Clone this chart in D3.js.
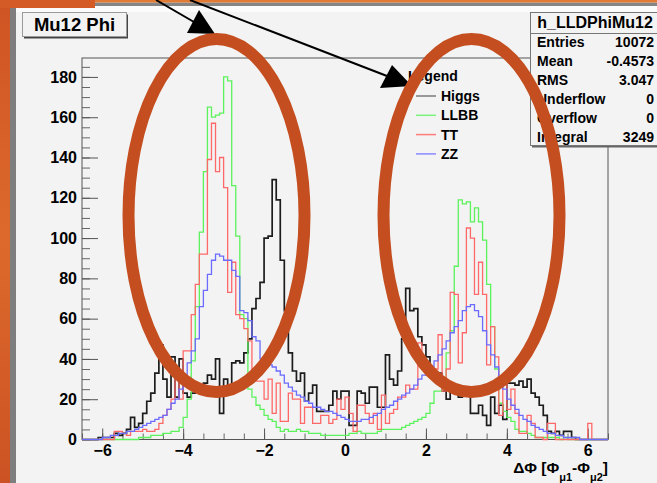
<!DOCTYPE html>
<html>
<head>
<meta charset="utf-8">
<script src="https://cdn.jsdelivr.net/npm/d3@7"></script>
<style>
  body { margin: 0; background: #f3f3f3; }
  svg { display: block; }
  text { font-family: "Liberation Sans", Arial, Helvetica, sans-serif; font-weight: bold; fill: #000; }
</style>
</head>
<body>
<div id="chart"></div>
<script>
// histogram binning: 130 bins of width 0.1 starting at -6.5
var binLow = -6.5, binWidth = 0.1;

var higgs = [
  0,0,0,0,1,1,1,1,3,2,
  3,5,11,6,8,13,19,23,33,47,
  30,21,41,21,40,23,21,23,27,26,
  28,32,30,40,13,30,27,38,39,38,
  43,50,65,70,78,100,101,129,119,89,
  64,43,34,29,33,19,23,27,14,14,
  14,17,24,20,24,24,7,7,24,23,
  18,26,26,16,16,42,30,27,34,50,
  75,64,65,51,47,41,35,29,33,24,
  20,24,24,21,25,25,13,13,17,12,
  7,21,13,17,10,28,28,27,29,26,
  30,23,21,17,12,4,3,4,2,4,
  4,1,0,0,0,0,0,0,0,0
];
var llbb = [
  0,0,0,0,0,0,0,0,0,0,
  0,0,0,0,1,1,1,2,2,2,
  3,3,4,4,6,11,20,39,66,103,
  133,165,160,161,162,180,178,126,101,62,
  60,25,21,17,15,12,10,9,6,4,
  5,4,4,5,4,4,3,3,3,2,
  2,2,2,2,2,2,3,3,4,3,
  3,3,3,4,5,5,5,5,5,6,
  7,8,9,10,11,13,18,24,24,30,
  43,54,86,119,117,118,108,115,108,99,
  77,56,35,18,14,11,9,5,4,4,
  3,2,1,1,1,1,1,1,0,1,
  0,0,0,0,0,0,0,0,0,0
];
var tt = [
  0,0,0,0,0,0,0,0,4,4,
  3,2,4,4,4,5,4,4,5,8,
  12,15,20,33,20,44,44,62,77,92,
  92,139,157,133,140,125,73,88,62,60,
  55,49,30,29,29,20,30,13,28,9,
  9,23,20,20,8,16,16,8,8,12,
  12,8,10,20,15,21,13,4,17,17,
  13,8,13,5,22,8,13,15,21,21,
  27,25,25,48,36,32,35,35,52,24,
  35,73,72,38,53,105,100,72,88,72,
  37,56,41,12,28,15,25,13,3,3,
  12,8,1,1,0,8,8,0,0,0,
  0,0,0,0,0,8,0,0,0,0
];
var zz = [
  0,0,0,0,0,1,1,2,2,3,
  3,4,4,5,6,7,8,9,10,11,
  12,15,18,20,25,31,38,44,50,66,
  74,82,89,92,91,89,89,84,81,64,
  63,59,51,49,40,37,37,36,34,32,
  28,26,24,22,21,19,18,16,16,15,
  14,14,13,12,11,10,9,9,9,10,
  10,11,12,13,15,16,17,19,20,22,
  23,25,27,30,32,34,36,39,42,45,
  49,53,56,59,64,66,67,64,61,54,
  47,42,36,30,25,20,17,15,12,10,
  9,7,6,5,4,3,3,2,2,1,
  1,1,1,0,0,0,0,0,0,0
];

var seriesNames = ["Higgs", "LLBB", "TT", "ZZ"];
var seriesColors = ["#1c1c1c", "#5cf25c", "#ff6868", "#6b6bff"];
var legendColors = ["#7a7a7a", "#7cf47c", "#ff7c7c", "#8a8aff"];

var xTicks = [-6, -4, -2, 0, 2, 4, 6];
var yTicks = [0, 20, 40, 60, 80, 100, 120, 140, 160, 180];

var titleText = "Mu12 Phi";
var statsTitle = "h_LLDPhiMu12";
var statsLabels = ["Entries", "Mean", "RMS", "Underflow", "Overflow", "Integral"];
var statsValues = ["10072", "-0.4573", "3.047", "0", "0", "3249"];

var W = 657, H = 483;
var frame = {left: 82, right: 608, top: 58, bottom: 439.5};

var svg = d3.select("#chart").append("svg")
    .attr("width", W)
    .attr("height", H);

// slide background / canvas
var defs = svg.append("defs");
var grad = defs.append("linearGradient").attr("id", "orng")
    .attr("x1", 0).attr("y1", 0).attr("x2", 0).attr("y2", 1);
grad.append("stop").attr("offset", "0%").attr("stop-color", "#cf5424");
grad.append("stop").attr("offset", "50%").attr("stop-color", "#dd6a2c");
grad.append("stop").attr("offset", "100%").attr("stop-color", "#cc5223");

svg.append("rect").attr("width", W).attr("height", H).attr("fill", "#f3f3f3");
svg.append("rect").attr("x", 16).attr("y", 6).attr("width", W - 16).attr("height", 6).attr("fill", "#fbfbfb");
svg.append("rect").attr("x", 95).attr("y", 2.5).attr("width", W - 95).attr("height", 3.5).attr("fill", "#858585");
svg.append("rect").attr("x", 10).attr("y", 8).attr("width", 6).attr("height", H - 8).attr("fill", "#7e7e7e");
svg.append("rect").attr("x", 0).attr("y", 0).attr("width", 10).attr("height", H).attr("fill", "url(#orng)");
svg.append("rect").attr("x", 0).attr("y", 0).attr("width", 95).attr("height", 8).attr("fill", "#d45a26");
svg.append("rect").attr("x", 95).attr("y", 0).attr("width", W - 95).attr("height", 2.5).attr("fill", "#e07a34");

// scales
var x = d3.scaleLinear().domain([-6.5, 6.5]).range([frame.left, frame.right]);
var y = d3.scaleLinear().domain([0, 189.4]).range([frame.bottom, frame.top]);

// minor + major ticks (ROOT style: inside the frame)
svg.append("g")
    .attr("transform", "translate(" + frame.left + ",0)")
    .call(d3.axisLeft(y).tickValues(d3.range(0, 189, 5)).tickSize(-8).tickFormat(""))
    .call(g => g.select(".domain").remove())
    .call(g => g.selectAll("line").attr("stroke", "#666"));
svg.append("g")
    .attr("transform", "translate(" + frame.left + ",0)")
    .call(d3.axisLeft(y).tickValues(yTicks).tickSize(-16).tickPadding(5))
    .call(g => g.select(".domain").remove())
    .call(g => g.selectAll("line").attr("stroke", "#555"))
    .call(g => g.selectAll("text").attr("font-size", 16).attr("font-family", "Liberation Sans, Arial, sans-serif"));

svg.append("g")
    .attr("transform", "translate(0," + frame.bottom + ")")
    .call(d3.axisBottom(x).tickValues(d3.range(-6.5, 6.51, 0.5)).tickSize(-6).tickFormat(""))
    .call(g => g.select(".domain").remove())
    .call(g => g.selectAll("line").attr("stroke", "#666"));
svg.append("g")
    .attr("transform", "translate(0," + frame.bottom + ")")
    .call(d3.axisBottom(x).tickValues(xTicks).tickSize(-11).tickPadding(5))
    .call(g => g.select(".domain").remove())
    .call(g => g.selectAll("line").attr("stroke", "#555"))
    .call(g => g.selectAll("text").attr("font-size", 16).attr("font-family", "Liberation Sans, Arial, sans-serif"));

// frame
svg.append("rect")
    .attr("x", frame.left).attr("y", frame.top)
    .attr("width", frame.right - frame.left).attr("height", frame.bottom - frame.top)
    .attr("fill", "none").attr("stroke", "#555").attr("stroke-width", 1);

// histograms as step outlines
var step = d3.line()
    .curve(d3.curveStepAfter)
    .x(d => x(d[0]))
    .y(d => y(d[1]));

function toSteps(vals) {
  var pts = vals.map((v, i) => [binLow + i * binWidth, v]);
  pts.push([binLow + vals.length * binWidth, vals[vals.length - 1]]);
  return pts;
}

var allSeries = [higgs, llbb, tt, zz];
svg.append("g").selectAll("path")
  .data(allSeries)
  .enter()
  .append("path")
    .attr("d", d => step(toSteps(d)))
    .attr("fill", "none")
    .attr("stroke", (d, i) => seriesColors[i])
    .attr("stroke-width", (d, i) => i == 0 ? 1.7 : 1.3);

// x axis title
var xt = svg.append("text")
    .attr("x", 608).attr("y", 473)
    .attr("text-anchor", "end")
    .attr("font-size", 15.5);
xt.append("tspan").text("\u0394\u03a6 [\u03a6");
xt.append("tspan").attr("dy", 8).attr("font-size", 11).text("\u03bc1");
xt.append("tspan").attr("dy", -8).text("-\u03a6");
xt.append("tspan").attr("dy", 8).attr("font-size", 11).text("\u03bc2");
xt.append("tspan").attr("dy", -8).text("]");

// legend
svg.append("text").attr("x", 408).attr("y", 81).attr("font-size", 14).text("Legend");
var leg = svg.append("g").selectAll("g")
  .data(seriesNames)
  .enter()
  .append("g")
    .attr("transform", (d, i) => "translate(0," + (96 + i * 19.3) + ")");
leg.append("line")
    .attr("x1", 416).attr("x2", 436)
    .attr("stroke", (d, i) => legendColors[i])
    .attr("stroke-width", 1.5);
leg.append("text")
    .attr("x", 441).attr("y", 5)
    .attr("font-size", 14)
    .text(d => d);

// title box
svg.append("rect").attr("x", 24).attr("y", 14.5).attr("width", 104).attr("height", 24).attr("fill", "#444");
svg.append("rect").attr("x", 22.5).attr("y", 12.5).attr("width", 104).attr("height", 24)
    .attr("fill", "#f3f3f3").attr("stroke", "#999").attr("stroke-width", 1);
svg.append("text").attr("x", 74.5).attr("y", 31).attr("text-anchor", "middle")
    .attr("font-size", 18.5).text(titleText);

// stats box
svg.append("rect").attr("x", 532).attr("y", 14.5).attr("width", 140).attr("height", 133).attr("fill", "#666");
svg.append("rect").attr("x", 530.5).attr("y", 12.5).attr("width", 140).attr("height", 133)
    .attr("fill", "#f3f3f3").attr("stroke", "#777").attr("stroke-width", 1);
svg.append("line").attr("x1", 530.5).attr("x2", W).attr("y1", 33.5).attr("y2", 33.5)
    .attr("stroke", "#777");
svg.append("text").attr("x", 595).attr("y", 28).attr("text-anchor", "middle")
    .attr("font-size", 16).text(statsTitle);
var st = svg.append("g").selectAll("g")
  .data(statsLabels)
  .enter()
  .append("g")
    .attr("transform", (d, i) => "translate(0," + (46.7 + i * 19) + ")");
st.append("text").attr("x", 537).attr("font-size", 14).text(d => d);
st.append("text").attr("x", 654).attr("text-anchor", "end").attr("font-size", 14)
    .text((d, i) => statsValues[i]);

// annotations: arrows and ellipses drawn on top
var ann = svg.append("g");
ann.append("line").attr("x1", 156).attr("y1", 0).attr("x2", 194).attr("y2", 22)
    .attr("stroke", "#000").attr("stroke-width", 2);
ann.append("polygon").attr("points", "199,10 187,33 215,34").attr("fill", "#000");
ann.append("line").attr("x1", 190).attr("y1", 0).attr("x2", 387).attr("y2", 76)
    .attr("stroke", "#000").attr("stroke-width", 2);
ann.append("polygon").attr("points", "380,88 392,65 412,86").attr("fill", "#000");

ann.selectAll("ellipse")
  .data([216.5, 471.5])
  .enter()
  .append("ellipse")
    .attr("cx", d => d)
    .attr("cy", 215.5)
    .attr("rx", 88)
    .attr("ry", 176.5)
    .attr("fill", "none")
    .attr("stroke", "#c44e1f")
    .attr("stroke-width", 12);
</script>
</body>
</html>
